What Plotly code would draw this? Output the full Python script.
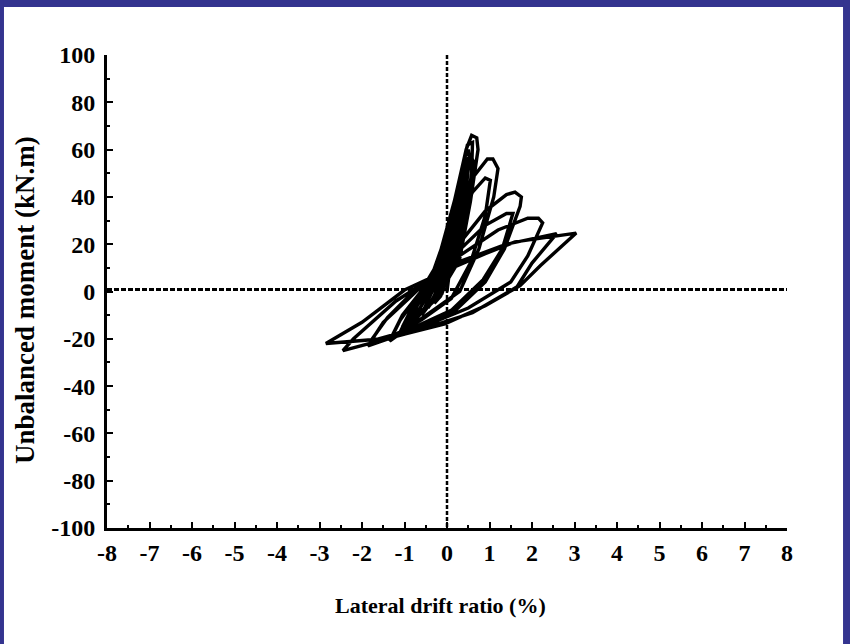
import plotly.graph_objects as go

# Hysteresis path (lateral drift ratio %, unbalanced moment kN.m)
drift = [
    0.0, 0.08, 0.15, 0.10, -0.15, -0.30, -0.15,
    0.06, 0.14, 0.08, -0.12, -0.28, -0.12,
    0.10, 0.22, 0.26, 0.20, -0.10, -0.45, -0.30,
    0.05, 0.20, 0.24, 0.15, -0.15, -0.42, -0.25,
    0.00, 0.25, 0.33, 0.30, 0.05, -0.35, -0.60, -0.45,
    -0.05, 0.22, 0.30, 0.26, 0.00, -0.38, -0.58, -0.40,
    -0.10, 0.20, 0.38, 0.45, 0.42, 0.15, -0.30, -0.80, -0.60,
    -0.15, 0.18, 0.36, 0.41, 0.36, 0.10, -0.35, -0.78, -0.55,
    -0.25, 0.12, 0.40, 0.50, 0.53, 0.40, 0.15, -0.30, -0.90, -0.70,
    -0.20, 0.15, 0.45, 0.58, 0.70, 0.73, 0.55, 0.30, -0.20, -1.10, -0.85,
    -0.45, 0.10, 0.42, 0.55, 0.62, 0.50, 0.25, -0.25, -1.05, -0.80,
    -0.35, 0.20, 0.48, 0.60, 0.58, 0.35, 0.00, -0.60, -1.00, -0.75,
    -0.50, 0.10, 0.60, 0.95, 1.08, 1.20, 1.10, 0.75, 0.30, -0.50, -1.35, -1.10,
    -0.65, 0.05, 0.60, 0.90, 1.02, 0.90, 0.55, 0.10, -0.60, -1.30, -1.05,
    -0.70, 0.20, 0.90, 1.40, 1.60, 1.75, 1.72, 1.35, 0.90, 0.20, -0.90, -1.86, -1.50,
    -0.90, 0.10, 0.90, 1.40, 1.55, 1.30, 0.85, 0.10, -1.00, -1.80, -1.40,
    -0.90, 0.20, 1.20, 1.90, 2.15, 2.25, 1.90, 1.50, 0.50, -1.00, -2.45, -2.20,
    -1.20, 0.20, 1.40, 2.58, 2.00, 1.65, 0.60, -0.60, -1.50, -2.85,
    -2.00, -1.00, 0.00, 0.90, 1.60, 3.04, 2.20, 1.72, 0.90, -0.05, -1.00, -1.40,
]
moment = [
    0.0, 12, 22, 14, -2, -5, 0,
    14, 20, 10, -1, -4, 2,
    20, 34, 36, 24, 2, -7, -2,
    18, 31, 32, 18, 0, -6, 0,
    14, 40, 46, 36, 8, -4, -10, -4,
    12, 36, 42, 30, 5, -5, -9, -2,
    10, 38, 52, 56, 44, 12, -3, -13, -6,
    8, 36, 49, 50, 38, 8, -4, -12, -4,
    6, 34, 56, 60, 56, 36, 10, -4, -14, -6,
    8, 36, 60, 66, 65, 60, 38, 14, -2, -17, -8,
    2, 30, 54, 58, 55, 36, 12, -3, -15, -6,
    4, 40, 62, 63, 50, 24, 4, -9, -15, -5,
    2, 24, 48, 56, 56, 52, 40, 18, 0, -10, -21, -12,
    -1, 20, 42, 48, 47, 32, 12, -3, -12, -19, -10,
    -2, 18, 34, 41, 42, 40, 36, 18, 4, -8, -17, -23, -13,
    -3, 14, 28, 33, 33, 18, 5, -8, -17, -21, -11,
    -2, 14, 26, 31, 31, 29, 15, 4, -7, -18, -25, -20,
    -4, 12, 20, 24.5, 12, 2, -9, -16, -20, -22,
    -13, 0.6, 9, 16, 21, 24.7, 11, 2.5, -6, -13.7, -18, -19.8,
]

x_ticks = [-8, -7, -6, -5, -4, -3, -2, -1, 0, 1, 2, 3, 4, 5, 6, 7, 8]
x_tick_labels = ["-8", "-7", "-6", "-5", "-4", "-3", "-2", "-1", "0", "1", "2", "3", "4", "5", "6", "7", "8"]
y_ticks = [-100, -80, -60, -40, -20, 0, 20, 40, 60, 80, 100]
y_tick_labels = ["-100", "-80", "-60", "-40", "-20", "0", "20", "40", "60", "80", "100"]

FONT = "Liberation Serif"
NAVY = "#34348f"

fig = go.Figure()
fig.add_trace(go.Scatter(
    x=drift, y=moment, mode="lines",
    line=dict(color="black", width=3.4),
    showlegend=False, hoverinfo="skip",
))

axis_common = dict(
    showgrid=False, zeroline=False, showline=True, linecolor="black", linewidth=3,
    ticks="inside", ticklen=6, tickwidth=2, tickcolor="black",
    tickfont=dict(family=FONT, size=24, color="black", weight="bold"),
    minor=dict(ticks="inside", ticklen=3, tickwidth=1.5, tickcolor="black"),
)
fig.update_xaxes(range=[-8, 8], tickvals=x_ticks, ticktext=x_tick_labels,
                 ticklabelstandoff=1, **axis_common)
fig.update_xaxes(minor_dtick=0.5, minor_tick0=0)
fig.update_yaxes(range=[-100, 100], tickvals=y_ticks, ticktext=y_tick_labels,
                 ticklabelstandoff=4, **axis_common)
fig.update_yaxes(minor_dtick=10, minor_tick0=0)

# dotted zero lines
fig.add_shape(type="line", xref="x", yref="y", x0=-8, x1=8, y0=0.8, y1=0.8,
              line=dict(color="black", width=3, dash="5px,2px"), layer="below")
fig.add_shape(type="line", xref="x", yref="y", x0=0, x1=0, y0=100, y1=-100,
              line=dict(color="black", width=2.5, dash="4px,2px"), layer="below")

# navy frame around the slide
fig.add_shape(type="rect", xref="paper", yref="paper", x0=-0.3, x1=1.3, y0=1.1015, y1=1.3,
              line=dict(width=0), fillcolor=NAVY)
fig.add_shape(type="rect", xref="paper", yref="paper", x0=-0.3, x1=-0.1515, y0=-0.5, y1=1.3,
              line=dict(width=0), fillcolor=NAVY)
fig.add_shape(type="rect", xref="paper", yref="paper", x0=1.0824, x1=1.3, y0=-0.5, y1=1.3,
              line=dict(width=0), fillcolor=NAVY)

fig.add_annotation(text="Lateral drift ratio (%)", xref="paper", yref="paper",
                   x=0.49, y=0, yanchor="middle", yshift=-77, showarrow=False,
                   font=dict(family=FONT, size=22, color="black", weight="bold"))
fig.add_annotation(text="Unbalanced moment (kN.m)", xref="paper", yref="paper",
                   x=0, y=0.482, xanchor="center", xshift=-82, textangle=-90, showarrow=False,
                   font=dict(family=FONT, size=27, color="black", weight="bold"))

fig.update_layout(
    width=850, height=644,
    margin=dict(l=107, r=63, t=55, b=116),
    paper_bgcolor="white", plot_bgcolor="white",
)

fig.write_html("out.html", config={"displayModeBar": False},
               post_script="document.body.style.margin='0px';document.body.style.overflow='hidden';")
